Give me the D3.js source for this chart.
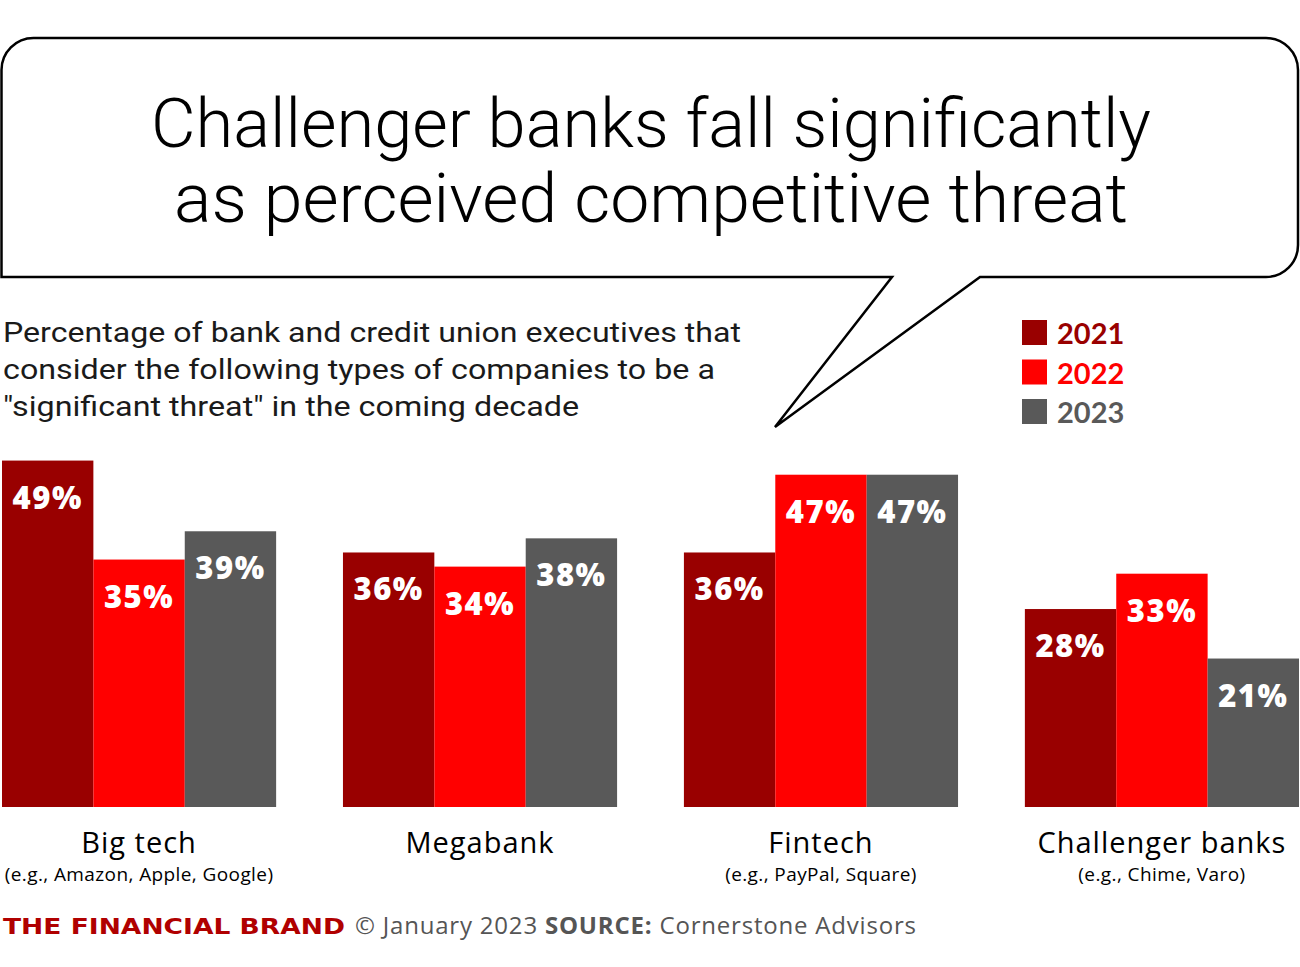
<!DOCTYPE html>
<html>
<head>
<meta charset="utf-8">
<script src="https://cdn.jsdelivr.net/npm/d3@7"></script>
<style>
  body { margin: 0; background: #ffffff; }
  svg { display: block; }
</style>
</head>
<body>
<svg id="chart"></svg>
<script>
"use strict";

const width = 1300;
const height = 967;

// data
const categories = ["Big tech", "Megabank", "Fintech", "Challenger banks"];
const examples = ["(e.g., Amazon, Apple, Google)", "", "(e.g., PayPal, Square)", "(e.g., Chime, Varo)"];
const years = ["2021", "2022", "2023"];
const values2021 = [49, 36, 36, 28];
const values2022 = [35, 34, 47, 33];
const values2023 = [39, 38, 47, 21];

const title_lines = ["Challenger banks fall significantly", "as perceived competitive threat"];
const subtitle_lines = [
    "Percentage of bank and credit union executives that",
    "consider the following types of companies to be a",
    "\"significant threat\" in the coming decade"
];

const colors = {
    "2021": "#990000",
    "2022": "#ff0000",
    "2023": "#595959"
};

const series = [values2021, values2022, values2023];

const title_font = "'Roboto', 'Open Sans', sans-serif";
const base_font = "'Open Sans', 'Roboto', sans-serif";
const bold_font = "'Lato', 'Open Sans', sans-serif";

const svg = d3.select("#chart")
    .attr("width", width)
    .attr("height", height);

svg.append("rect")
    .attr("width", width)
    .attr("height", height)
    .attr("fill", "#ffffff");

// speech bubble
const bx0 = 1.5, by0 = 38, bx1 = 1298, by1 = 277, br = 32;
const tail = [[892, 277], [775, 427], [980, 277]];
const bubble = d3.path();
bubble.moveTo(bx0 + br, by0);
bubble.lineTo(bx1 - br, by0);
bubble.arcTo(bx1, by0, bx1, by0 + br, br);
bubble.lineTo(bx1, by1 - br);
bubble.arcTo(bx1, by1, bx1 - br, by1, br);
bubble.lineTo(tail[2][0], tail[2][1]);
bubble.lineTo(tail[1][0], tail[1][1]);
bubble.lineTo(tail[0][0], tail[0][1]);
bubble.lineTo(bx0, by1);
bubble.lineTo(bx0, by0 + br);
bubble.arcTo(bx0, by0, bx0 + br, by0, br);
bubble.closePath();

svg.append("path")
    .attr("d", bubble.toString())
    .attr("fill", "#ffffff")
    .attr("stroke", "#000000")
    .attr("stroke-width", 2.5)
    .attr("stroke-linejoin", "miter");

svg.append("g")
    .selectAll("text")
    .data(title_lines)
    .enter()
    .append("text")
    .attr("x", 651)
    .attr("y", (d, i) => 147 + i * 75)
    .attr("text-anchor", "middle")
    .attr("textLength", (d, i) => i === 0 ? 1000 : 954)
    .attr("lengthAdjust", "spacingAndGlyphs")
    .style("font-family", title_font)
    .style("font-weight", 300)
    .style("font-size", "68px")
    .style("fill", "#000000")
    .text(d => d);

// subtitle
const subtitle_widths = [738, 712, 576];
svg.append("g")
    .selectAll("text")
    .data(subtitle_lines)
    .enter()
    .append("text")
    .attr("x", 3)
    .attr("y", (d, i) => 342 + i * 37)
    .attr("textLength", (d, i) => subtitle_widths[i])
    .attr("lengthAdjust", "spacingAndGlyphs")
    .style("font-family", title_font)
    .style("font-size", "28px")
    .style("fill", "#1a1a1a")
    .text(d => d);

// legend
const legend = svg.append("g")
    .selectAll("g")
    .data(years)
    .enter()
    .append("g")
    .attr("transform", (d, i) => `translate(1022, ${320 + i * 39.5})`);

legend.append("rect")
    .attr("width", 25)
    .attr("height", 25)
    .attr("fill", d => colors[d]);

legend.append("text")
    .attr("x", 35)
    .attr("y", 24)
    .style("font-family", bold_font)
    .style("font-weight", 700)
    .style("font-size", "29px")
    .style("fill", d => colors[d])
    .text(d => d);

// scales
const x0 = d3.scaleBand()
    .domain(categories)
    .range([2, 1299])
    .paddingInner(0.196)
    .paddingOuter(0);

const x1 = d3.scaleBand()
    .domain(years)
    .range([0, x0.bandwidth()]);

const y = d3.scaleLinear()
    .domain([0, 50])
    .range([807, 453.5]);

const groups = svg.append("g")
    .selectAll("g")
    .data(categories)
    .enter()
    .append("g")
    .attr("transform", d => `translate(${x0(d)}, 0)`);

const bars = groups.selectAll("g")
    .data((d, ci) => years.map((yr, si) => ({ year: yr, value: series[si][ci] })))
    .enter()
    .append("g");

bars.append("rect")
    .attr("x", d => x1(d.year))
    .attr("y", d => y(d.value))
    .attr("width", x1.bandwidth())
    .attr("height", d => y(0) - y(d.value))
    .attr("fill", d => colors[d.year]);

bars.append("text")
    .attr("x", d => x1(d.year) + x1.bandwidth() / 2)
    .attr("y", d => y(d.value) + 48)
    .attr("text-anchor", "middle")
    .style("font-family", base_font)
    .style("font-weight", 800)
    .style("font-size", "31px")
    .style("letter-spacing", "1.5px")
    .style("fill", "#ffffff")
    .text(d => d.value + "%");

// category labels
groups.append("text")
    .attr("x", x0.bandwidth() / 2)
    .attr("y", 853)
    .attr("text-anchor", "middle")
    .style("font-family", base_font)
    .style("font-size", "29px")
    .style("letter-spacing", "1px")
    .style("fill", "#000000")
    .text(d => d);

groups.append("text")
    .attr("x", x0.bandwidth() / 2)
    .attr("y", 881)
    .attr("text-anchor", "middle")
    .style("font-family", base_font)
    .style("font-size", "19px")
    .style("letter-spacing", "0.4px")
    .style("fill", "#000000")
    .text((d, i) => examples[i]);

// footer
svg.append("text")
    .attr("x", 3)
    .attr("y", 934)
    .attr("textLength", 342)
    .attr("lengthAdjust", "spacingAndGlyphs")
    .style("font-family", "'DejaVu Sans', sans-serif")
    .style("font-weight", 700)
    .style("font-size", "21px")
    .style("fill", "#b00000")
    .text("THE FINANCIAL BRAND");

const footer = svg.append("text")
    .attr("x", 355)
    .attr("y", 934)
    .style("font-family", base_font)
    .style("font-size", "24px")
    .style("letter-spacing", "0.8px")
    .style("fill", "#555555");

footer.append("tspan").text("© January 2023 ");
footer.append("tspan").style("font-weight", 700).text("SOURCE:");
footer.append("tspan").text(" Cornerstone Advisors");
</script>
</body>
</html>
